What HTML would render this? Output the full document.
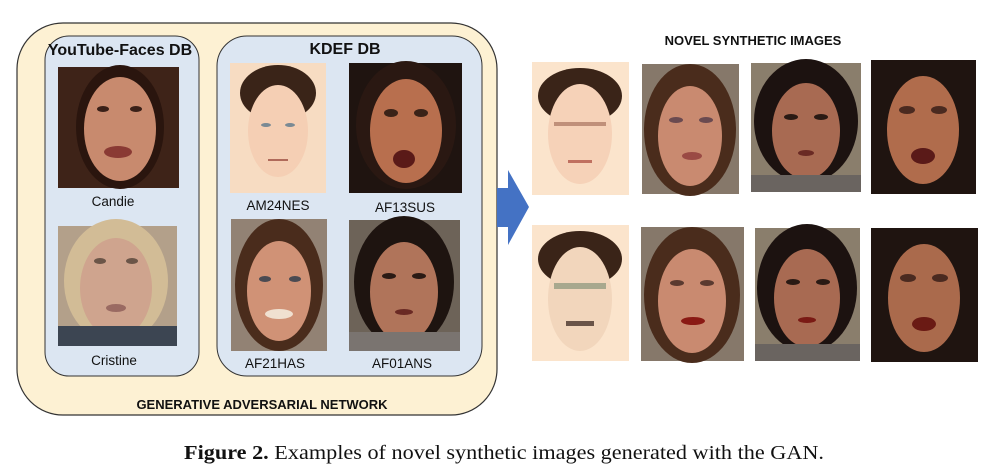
<!DOCTYPE html>
<html><head><meta charset="utf-8"><style>
html,body{margin:0;padding:0;background:#fff;width:998px;height:476px;overflow:hidden}
svg{display:block}
text{font-family:"Liberation Sans",sans-serif}
</style></head><body>
<svg width="998" height="476" viewBox="0 0 998 476" xmlns="http://www.w3.org/2000/svg">
<defs>
<g id="face">
</g>
</defs>
<!-- outer GAN box -->
<rect x="17" y="23" width="480" height="392" rx="46" fill="#fdf1d3" stroke="#333" stroke-width="1.2"/>
<rect x="45" y="36" width="154" height="340" rx="24" fill="#dce6f2" stroke="#333" stroke-width="1"/>
<rect x="217" y="36" width="265" height="340" rx="30" fill="#dce6f2" stroke="#333" stroke-width="1"/>
<text x="120" y="55" font-size="16" font-weight="bold" text-anchor="middle" fill="#111">YouTube-Faces DB</text>
<text x="345" y="54" font-size="16" font-weight="bold" text-anchor="middle" fill="#111">KDEF DB</text>
<text x="262" y="409" font-size="13" font-weight="bold" text-anchor="middle" fill="#111">GENERATIVE ADVERSARIAL NETWORK</text>

<!-- photo helper: bg, hair, face, eyes, mouth -->
<!-- Candie -->
<g transform="translate(58,67)"><rect width="121" height="121" fill="#3e2318"/><ellipse cx="62" cy="60" rx="44" ry="62" fill="#2a150e"/><ellipse cx="62" cy="62" rx="36" ry="52" fill="#c88a6e"/><ellipse cx="45" cy="42" rx="6" ry="3" fill="#3a2018"/><ellipse cx="78" cy="42" rx="6" ry="3" fill="#3a2018"/><ellipse cx="60" cy="85" rx="14" ry="6" fill="#8a3a34"/></g>
<!-- Cristine -->
<g transform="translate(58,226)"><rect width="119" height="120" fill="#b3a08a"/><ellipse cx="58" cy="55" rx="52" ry="62" fill="#d2bc96"/><ellipse cx="58" cy="62" rx="36" ry="50" fill="#cfa48e"/><rect y="100" width="119" height="20" fill="#3c4552"/><ellipse cx="42" cy="35" rx="6" ry="3" fill="#6b5548"/><ellipse cx="74" cy="35" rx="6" ry="3" fill="#6b5548"/><ellipse cx="58" cy="82" rx="10" ry="4" fill="#9a6a62"/></g>
<!-- AM24NES -->
<g transform="translate(230,63)"><rect width="96" height="130" fill="#f7dcc2"/><ellipse cx="48" cy="30" rx="38" ry="28" fill="#3a2418"/><ellipse cx="48" cy="68" rx="30" ry="46" fill="#f5cfb4"/><ellipse cx="36" cy="62" rx="5" ry="2" fill="#7a8a94"/><ellipse cx="60" cy="62" rx="5" ry="2" fill="#7a8a94"/><rect x="38" y="96" width="20" height="2" fill="#b06a5a"/></g>
<!-- AF13SUS -->
<g transform="translate(349,63)"><rect width="113" height="130" fill="#1f1410"/><ellipse cx="57" cy="62" rx="50" ry="64" fill="#2a1812"/><ellipse cx="57" cy="68" rx="36" ry="52" fill="#b86f4e"/><ellipse cx="42" cy="50" rx="7" ry="4" fill="#3a2218"/><ellipse cx="72" cy="50" rx="7" ry="4" fill="#3a2218"/><ellipse cx="55" cy="96" rx="11" ry="9" fill="#5a1a18"/></g>
<!-- AF21HAS -->
<g transform="translate(231,219)"><rect width="96" height="132" fill="#928274"/><ellipse cx="48" cy="66" rx="44" ry="66" fill="#4a2c1c"/><ellipse cx="48" cy="72" rx="32" ry="50" fill="#d09276"/><ellipse cx="34" cy="60" rx="6" ry="3" fill="#4a4a52"/><ellipse cx="64" cy="60" rx="6" ry="3" fill="#4a4a52"/><ellipse cx="48" cy="95" rx="14" ry="5" fill="#f0e0d0"/></g>
<!-- AF01ANS -->
<g transform="translate(349,220)"><rect width="111" height="131" fill="#6d6358"/><ellipse cx="55" cy="62" rx="50" ry="66" fill="#1e1410"/><ellipse cx="55" cy="72" rx="34" ry="50" fill="#b0745a"/><rect y="112" width="111" height="19" fill="#7a7470"/><ellipse cx="40" cy="56" rx="7" ry="3" fill="#2a1a14"/><ellipse cx="70" cy="56" rx="7" ry="3" fill="#2a1a14"/><ellipse cx="55" cy="92" rx="9" ry="3" fill="#6a2a24"/></g>

<g font-size="13.5" fill="#111" text-anchor="middle">
<text x="113" y="206">Candie</text>
<text x="114" y="365">Cristine</text>
<text x="278" y="210">AM24NES</text>
<text x="405" y="212">AF13SUS</text>
<text x="275" y="368">AF21HAS</text>
<text x="402" y="368">AF01ANS</text>
</g>

<!-- arrow -->
<polygon points="497,188 508,188 508,170 529,207 508,245 508,227 497,227" fill="#4472c4"/>

<text x="753" y="45" font-size="13" font-weight="bold" text-anchor="middle" fill="#111">NOVEL SYNTHETIC IMAGES</text>

<!-- row 1 -->
<g transform="translate(532,62)"><rect width="97" height="133" fill="#fbe4cc"/><ellipse cx="48" cy="34" rx="42" ry="28" fill="#3a2418"/><ellipse cx="48" cy="72" rx="32" ry="50" fill="#f6d2b8"/><rect x="22" y="60" width="52" height="4" fill="#c0907a"/><rect x="36" y="98" width="24" height="3" fill="#c07060"/></g>
<g transform="translate(642,64)"><rect width="97" height="130" fill="#86786a"/><ellipse cx="48" cy="66" rx="46" ry="66" fill="#4a2c1c"/><ellipse cx="48" cy="72" rx="32" ry="50" fill="#c98a70"/><ellipse cx="34" cy="56" rx="7" ry="3" fill="#6a4a50"/><ellipse cx="64" cy="56" rx="7" ry="3" fill="#6a4a50"/><ellipse cx="50" cy="92" rx="10" ry="4" fill="#9a4a44"/></g>
<g transform="translate(751,63)"><rect width="110" height="129" fill="#8a7e6c"/><ellipse cx="55" cy="58" rx="52" ry="62" fill="#1c1210"/><ellipse cx="55" cy="68" rx="34" ry="48" fill="#a86a52"/><rect y="112" width="110" height="17" fill="#6a6460"/><ellipse cx="40" cy="54" rx="7" ry="3" fill="#2a1a14"/><ellipse cx="70" cy="54" rx="7" ry="3" fill="#2a1a14"/><ellipse cx="55" cy="90" rx="8" ry="3" fill="#6a2a24"/></g>
<g transform="translate(871,60)"><rect width="105" height="134" fill="#1f1410"/><ellipse cx="52" cy="70" rx="36" ry="54" fill="#b06c4c"/><ellipse cx="36" cy="50" rx="8" ry="4" fill="#4a2a20"/><ellipse cx="68" cy="50" rx="8" ry="4" fill="#4a2a20"/><ellipse cx="52" cy="96" rx="12" ry="8" fill="#5a1a18"/></g>
<!-- row 2 -->
<g transform="translate(532,225)"><rect width="97" height="136" fill="#fbe4cc"/><ellipse cx="48" cy="34" rx="42" ry="28" fill="#3a2418"/><ellipse cx="48" cy="74" rx="32" ry="52" fill="#f2d6bc"/><rect x="22" y="58" width="52" height="6" fill="#a8a88e"/><rect x="34" y="96" width="28" height="5" fill="#6a5448"/></g>
<g transform="translate(641,227)"><rect width="103" height="134" fill="#86786a"/><ellipse cx="51" cy="68" rx="48" ry="68" fill="#4a2c1c"/><ellipse cx="51" cy="74" rx="34" ry="52" fill="#c98a70"/><ellipse cx="36" cy="56" rx="7" ry="3" fill="#5a3a30"/><ellipse cx="66" cy="56" rx="7" ry="3" fill="#5a3a30"/><ellipse cx="52" cy="94" rx="12" ry="4" fill="#8a1a14"/></g>
<g transform="translate(755,228)"><rect width="105" height="133" fill="#8a7e6c"/><ellipse cx="52" cy="60" rx="50" ry="64" fill="#1c1210"/><ellipse cx="52" cy="70" rx="33" ry="49" fill="#a86a52"/><rect y="116" width="105" height="17" fill="#6a6460"/><ellipse cx="38" cy="54" rx="7" ry="3" fill="#2a1a14"/><ellipse cx="68" cy="54" rx="7" ry="3" fill="#2a1a14"/><ellipse cx="52" cy="92" rx="9" ry="3" fill="#7a1a14"/></g>
<g transform="translate(871,228)"><rect width="107" height="134" fill="#1f1410"/><ellipse cx="53" cy="70" rx="36" ry="54" fill="#aa6a4c"/><ellipse cx="37" cy="50" rx="8" ry="4" fill="#4a2a20"/><ellipse cx="69" cy="50" rx="8" ry="4" fill="#4a2a20"/><ellipse cx="53" cy="96" rx="12" ry="7" fill="#6a1a14"/></g>

<!-- caption -->
<text x="184" y="459" font-size="20.5" fill="#111" style="font-family:'Liberation Serif',serif" textLength="640" lengthAdjust="spacingAndGlyphs"><tspan font-weight="bold">Figure 2.</tspan> Examples of novel synthetic images generated with the GAN.</text>
</svg>
</body></html>
